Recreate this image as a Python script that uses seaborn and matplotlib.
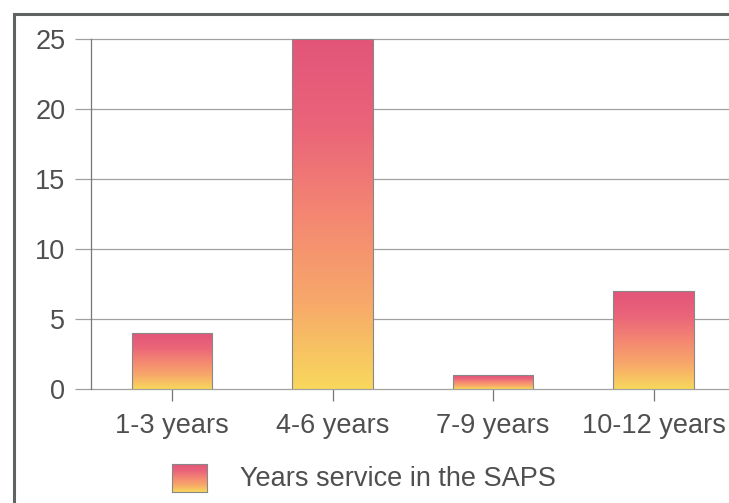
import numpy as np
import pandas as pd
import matplotlib
matplotlib.use("Agg")
import matplotlib.pyplot as plt
from matplotlib.colors import LinearSegmentedColormap
from matplotlib.patches import Rectangle
import seaborn as sns

categories = ["1-3 years", "4-6 years", "7-9 years", "10-12 years"]
counts = [4, 25, 1, 7]
series_name = "Years service in the SAPS"
y_ticks = [0, 5, 10, 15, 20, 25]

sns.set_theme(style="white")
plt.rcParams["font.family"] = ["Liberation Sans", "DejaVu Sans"]

text_color = "#4f4f4f"
grid_color = "#a0a0a0"
grad = LinearSegmentedColormap.from_list(
    "pinkgold", ["#f8d85c", "#f7a86a", "#f48672", "#ea6479", "#e2557a"])

fig = plt.figure(figsize=(7.29, 5.03), dpi=100)
ax = fig.add_axes([91 / 729, 114 / 503, 642 / 729, 350 / 503])

df = pd.DataFrame({"category": categories, "count": counts})
sns.barplot(data=df, x="category", y="count", width=0.5, ax=ax,
            color="white", edgecolor="#888888", linewidth=0.8, zorder=3)

# vertical gradient fill, stretched over each bar's own height
gradient = np.linspace(0, 1, 256).reshape(-1, 1)
for patch in ax.patches:
    x0, y0 = patch.get_x(), patch.get_y()
    w, h = patch.get_width(), patch.get_height()
    im = ax.imshow(gradient, cmap=grad, aspect="auto", origin="lower",
                   extent=(x0, x0 + w, y0, y0 + h), zorder=2.5)
    im.set_clip_path(patch)
    patch.set_facecolor("none")
ax.set_xlim(-0.505, 3.495)
ax.set_ylim(0, 25)
ax.set_yticks(y_ticks)

ax.grid(False)
for y in y_ticks:
    ax.axhline(y, color=grid_color, linewidth=0.9, zorder=1, clip_on=False)

for side in ["top", "right", "bottom"]:
    ax.spines[side].set_visible(False)
ax.spines["left"].set_color("#777777")
ax.spines["left"].set_linewidth(0.9)

ax.tick_params(axis="y", length=11.5, width=0.9, color=grid_color, pad=7,
               labelsize=19.5, labelcolor=text_color, left=True)
ax.tick_params(axis="x", length=8.5, width=0.9, color="#777777", pad=9,
               labelsize=19.5, labelcolor=text_color, bottom=True)
ax.set_xlabel("")
ax.set_ylabel("")

# outer frame around the chart
fig.patches.append(Rectangle((14 / 729, -0.2), 1.2, (489 / 503) + 0.2,
                             transform=fig.transFigure, fill=False,
                             edgecolor="#5f6460", linewidth=2.2))

# legend: gradient swatch with the series name
sw = fig.add_axes([172 / 729, 11 / 503, 35 / 729, 28 / 503])
sw.imshow(gradient, cmap=grad, aspect="auto", origin="lower",
          extent=(0, 1, 0, 1))
sw.set_xticks([])
sw.set_yticks([])
for s in sw.spines.values():
    s.set_color("#888888")
    s.set_linewidth(0.8)
fig.text(240 / 729, 24 / 503, series_name, fontsize=19.5, color=text_color,
         ha="left", va="center")

fig.savefig("out.png", dpi=100)
